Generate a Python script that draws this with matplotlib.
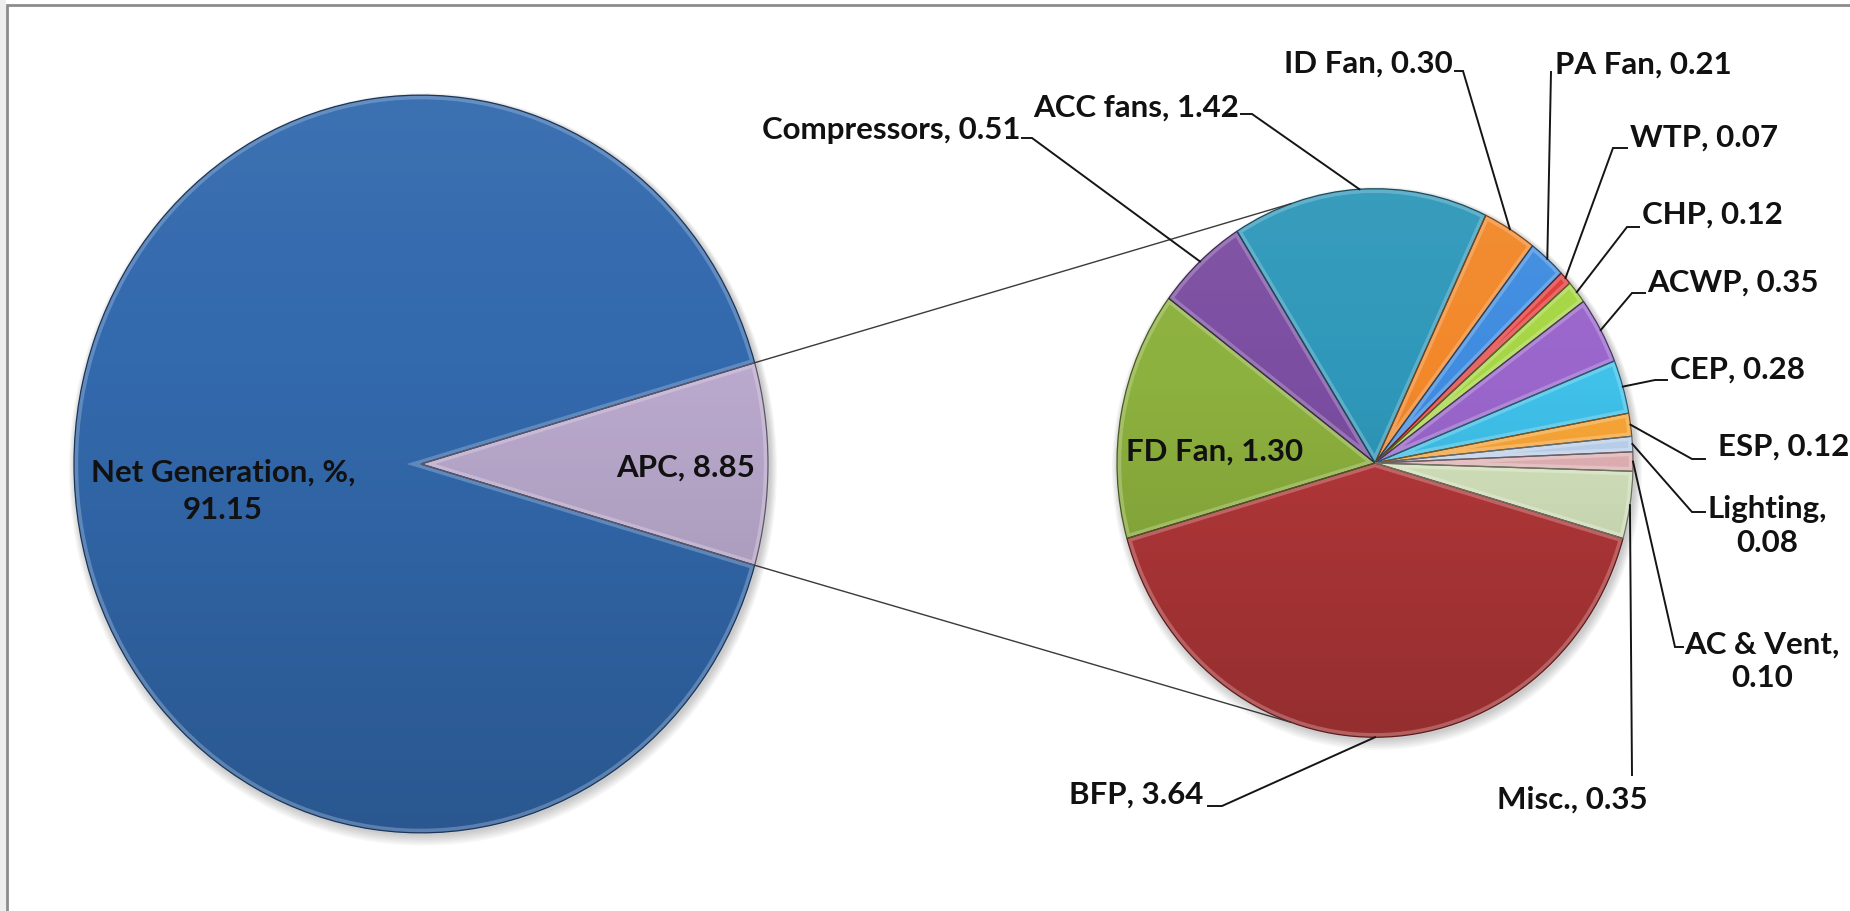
import numpy as np
import matplotlib
matplotlib.use("Agg")
import matplotlib.pyplot as plt
from matplotlib.patches import Circle, Rectangle, Wedge
from matplotlib.colors import to_rgb

# ---- data ----
main_labels = ["Net Generation, %", "APC"]
main_values = [91.15, 8.85]
main_colors = ["#336AAE", "#BBAACE"]

apc_labels = ["BFP", "FD Fan", "Compressors", "ACC fans", "ID Fan", "PA Fan",
              "WTP", "CHP", "ACWP", "CEP", "ESP", "Lighting", "AC & Vent", "Misc."]
apc_values = [3.64, 1.30, 0.51, 1.42, 0.30, 0.21, 0.07, 0.12, 0.35, 0.28,
              0.12, 0.08, 0.10, 0.35]
apc_colors = ["#B5383A", "#8DB13E", "#7C4EA2", "#2F98BA", "#F2882A", "#3F8CE0",
              "#E23A3A", "#A6D645", "#9A66CC", "#3FC1EA", "#F9A638", "#BDD3EE",
              "#E3B4B7", "#D6E5BE"]

# ---- canvas (pixel based, slight vertical stretch of the chart area) ----
W, H, DPI = 1850, 911, 100
SY = 1.063

fig = plt.figure(figsize=(W / DPI, H / DPI), dpi=DPI)
fig.patch.set_facecolor("white")
ax = fig.add_axes([0, 0, 1, 1])


def P(x, y):
    """pixel position (origin top-left) -> data coordinates"""
    return x, (H - y) / SY


def mix(c, other, t):
    a = np.array(to_rgb(c))
    b = np.array(to_rgb(other))
    return tuple(a + (b - a) * t)


TXT = dict(family="Lato", fontweight="bold", fontsize=22.5, color="#111111")

left_c, left_r = P(421, 464), 347
right_c, right_r = P(1375, 463), 258


def shadow(center, r):
    cx, cy = center
    for k in range(6):
        ax.add_patch(Circle((cx + 2, cy - 2 - k * 0.6), r + 1 + k * 1.2,
                            color="black", alpha=0.035, lw=0, zorder=0.5))


def shade(center, r):
    cx, cy = center
    t = np.linspace(0, 1, 256)
    rgba = np.zeros((256, 1, 4))
    top = t < 0.35
    rgba[top, 0, :3] = 1.0
    rgba[top, 0, 3] = 0.05 * (1 - t[top] / 0.35)
    rgba[~top, 0, 3] = 0.18 * ((t[~top] - 0.35) / 0.65)
    im = ax.imshow(rgba, extent=(cx - r, cx + r, cy - r, cy + r), origin="upper",
                   aspect="auto", interpolation="bicubic", zorder=3)
    im.set_clip_path(Circle(center, r, transform=ax.transData))


def bevel(wedges, colors):
    for w, c in zip(wedges, colors):
        w.set_linewidth(0)
        hl = Wedge(w.center, w.r, w.theta1, w.theta2, fill=False,
                   ec=mix(c, "white", 0.5), lw=6, alpha=0.45, zorder=4)
        ax.add_patch(hl)
        hl.set_clip_path(w)
        ax.add_patch(Wedge(w.center, w.r, w.theta1, w.theta2, fill=False,
                           ec=mix(c, "black", 0.5), lw=0.9, zorder=5))


# ---- left pie ----
shadow(left_c, left_r)
main_total = sum(main_values)
apc_span = main_values[1] / main_total * 360
w_main, _ = ax.pie(main_values, colors=main_colors, center=left_c, radius=left_r,
                   startangle=apc_span / 2, counterclock=True, frame=True)
shade(left_c, left_r)
bevel(w_main, main_colors)

# ---- right pie (breakdown of APC) ----
shadow(right_c, right_r)
apc_total = sum(apc_values)
w_apc, _ = ax.pie(apc_values, colors=apc_colors, center=right_c, radius=right_r,
                  startangle=-90 + apc_values[0] / apc_total * 180,
                  counterclock=False, frame=True)
shade(right_c, right_r)
bevel(w_apc, apc_colors)


def edge_point(center, r, ang):
    a = np.deg2rad(ang)
    return center[0] + r * np.cos(a), center[1] + r * np.sin(a)


# ---- connector lines between the pies ----
apc_w = w_main[1]
for ang_l, ang_r in [(apc_w.theta2, 109), (apc_w.theta1, -109)]:
    p0 = edge_point(left_c, left_r, ang_l)
    p1 = edge_point(right_c, right_r, ang_r)
    ax.plot([p0[0], p1[0]], [p0[1], p1[1]], color="#3a3a3a", lw=1.0, zorder=6)

# ---- labels of the left pie ----
ax.text(*P(223, 491), f"{main_labels[0]},\n{main_values[0]:.2f}", ha="center",
        va="center", linespacing=1.4, zorder=7, **TXT)
ax.text(*P(686, 468), f"{main_labels[1]}, {main_values[1]:.2f}", ha="center",
        va="center", zorder=7, **TXT)

# ---- labels of the right pie: text position, alignment, leader anchors ----
layout = {
    "BFP": ((1203, 795), "right", [(1208, 806), (1222, 806)]),
    "FD Fan": ((1215, 452), "center", None),
    "Compressors": ((1020, 130), "right", [(1022, 138), (1032, 138)]),
    "ACC fans": ((1239, 108), "right", [(1241, 114), (1252, 114)]),
    "ID Fan": ((1453, 64), "right", [(1455, 71), (1463, 71)]),
    "PA Fan": ((1555, 65), "left", [(1551, 72)]),
    "WTP": ((1630, 138), "left", [(1627, 148), (1613, 148)]),
    "CHP": ((1642, 215), "left", [(1639, 227), (1627, 227)]),
    "ACWP": ((1647, 283), "left", [(1645, 293), (1632, 293)]),
    "CEP": ((1670, 370), "left", [(1667, 380), (1655, 380)]),
    "ESP": ((1718, 447), "left", [(1705, 459), (1692, 459)]),
    "Lighting": ((1767, 526), "center", [(1705, 512), (1692, 512)]),
    "AC & Vent": ((1762, 661), "center", [(1683, 647), (1675, 647)]),
    "Misc.": ((1497, 800), "left", [(1632, 775)]),
}
two_line = {"Lighting", "AC & Vent"}

for w, name, val in zip(w_apc, apc_labels, apc_values):
    (tx, ty), ha, anchors = layout[name]
    sep = ",\n" if name in two_line else ", "
    ax.text(*P(tx, ty), f"{name}{sep}{val:.2f}", ha=ha, va="center",
            linespacing=1.25, multialignment="center", zorder=7, **TXT)
    if anchors:
        pts = [P(x, y) for x, y in anchors]
        pts.append(edge_point(right_c, right_r, (w.theta1 + w.theta2) / 2))
        xs, ys = zip(*pts)
        ax.plot(xs, ys, color="#151515", lw=1.4, zorder=6,
                solid_joinstyle="miter")

# ---- chart frame ----
ax.add_patch(Rectangle((0, 0), 6, H / SY, color="#EEEEEE", lw=0, zorder=0))
fx, fy = zip(P(7, 911), P(7, 5), P(1850, 5))
ax.plot(fx, fy, color="#8C8C8C", lw=2, zorder=8, solid_joinstyle="miter")

ax.set_xlim(0, W)
ax.set_ylim(0, H / SY)
ax.set_aspect("auto")
ax.axis("off")

fig.savefig("out.png", dpi=DPI, facecolor="white")
